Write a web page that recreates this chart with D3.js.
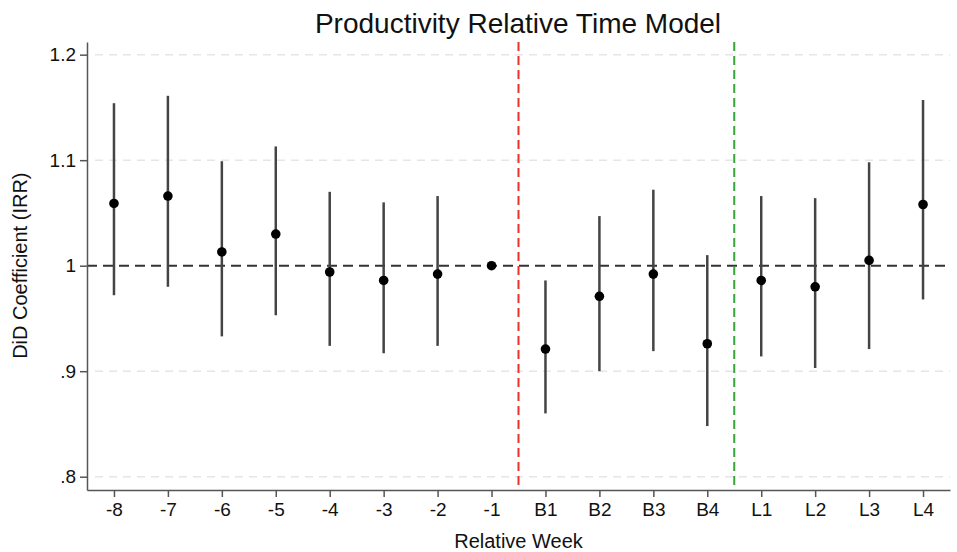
<!DOCTYPE html>
<html>
<head>
<meta charset="utf-8">
<script src="https://cdn.jsdelivr.net/npm/d3@7"></script>
<style>
  body { margin: 0; background: #fff; }
  text { font-family: "Liberation Sans", Arial, sans-serif; fill: #111; }
</style>
</head>
<body>
<div id="chart"></div>
<script>
// data
const weeks = ["-8", "-7", "-6", "-5", "-4", "-3", "-2", "-1", "B1", "B2", "B3", "B4", "L1", "L2", "L3", "L4"];
const coef  = [1.059, 1.066, 1.013, 1.030, 0.994, 0.986, 0.992, 1.000, 0.921, 0.971, 0.992, 0.926, 0.986, 0.980, 1.005, 1.058];
const upper = [1.154, 1.161, 1.099, 1.113, 1.070, 1.060, 1.066, null, 0.986, 1.047, 1.072, 1.010, 1.066, 1.064, 1.098, 1.157];
const lower = [0.972, 0.980, 0.933, 0.953, 0.924, 0.917, 0.924, null, 0.860, 0.900, 0.919, 0.848, 0.914, 0.903, 0.921, 0.968];
const yTicks = [0.8, 0.9, 1.0, 1.1, 1.2];
const yTickLabels = [".8", ".9", "1", "1.1", "1.2"];
const eventLines = [{ pos: 8.5, color: "#e8322a" }, { pos: 12.5, color: "#3aa33a" }];

const svgWidth = 957;
const svgHeight = 552;

const margin = { top: 42, right: 7, bottom: 62, left: 87 };
const width = svgWidth - margin.left - margin.right;
const height = svgHeight - margin.top - margin.bottom;

const svg = d3.select("#chart")
  .append("svg")
  .attr("width", svgWidth)
  .attr("height", svgHeight);

const chartGroup = svg.append("g")
  .attr("transform", `translate(${margin.left}, ${margin.top})`);

const xScale = d3.scaleLinear()
  .domain([0.5, weeks.length + 0.5])
  .range([0, width]);

const yScale = d3.scaleLinear()
  .domain([0.7874, 1.212])
  .range([height, 0]);

// gridlines
chartGroup.selectAll(".grid")
  .data(yTicks.filter(d => d !== 1))
  .enter()
  .append("line")
  .attr("x1", 8)
  .attr("x2", width)
  .attr("y1", d => yScale(d))
  .attr("y2", d => yScale(d))
  .attr("stroke", "#e6e6e6")
  .attr("stroke-width", 1.5)
  .attr("stroke-dasharray", "8,6");

// reference line at 1
chartGroup.append("line")
  .attr("x1", 0)
  .attr("x2", width)
  .attr("y1", yScale(1))
  .attr("y2", yScale(1))
  .attr("stroke", "#333")
  .attr("stroke-width", 2)
  .attr("stroke-dasharray", "10,6");

// event lines
chartGroup.selectAll(".event")
  .data(eventLines)
  .enter()
  .append("line")
  .attr("x1", d => xScale(d.pos))
  .attr("x2", d => xScale(d.pos))
  .attr("y1", 0)
  .attr("y2", height)
  .attr("stroke", d => d.color)
  .attr("stroke-width", 2)
  .attr("stroke-dasharray", "9,5");

// axes
const bottomAxis = d3.axisBottom(xScale)
  .tickValues(d3.range(1, weeks.length + 1))
  .tickFormat(i => weeks[i - 1])
  .tickSize(7)
  .tickSizeOuter(0)
  .tickPadding(6);

const leftAxis = d3.axisLeft(yScale)
  .tickValues(yTicks)
  .tickFormat((d, i) => yTickLabels[i])
  .tickSize(7)
  .tickSizeOuter(0)
  .tickPadding(4);

const xAxisG = chartGroup.append("g")
  .attr("transform", `translate(0, ${height})`)
  .call(bottomAxis);

const yAxisG = chartGroup.append("g")
  .call(leftAxis);

[xAxisG, yAxisG].forEach(g => {
  g.selectAll("path, line").attr("stroke", "#555").attr("stroke-width", 1.5);
  g.selectAll("text").attr("font-size", "19px").attr("fill", "#111")
    .style("font-family", "'Liberation Sans', Arial, sans-serif");
});

// error bars
const rows = weeks.map((w, i) => ({ i: i + 1, c: coef[i], hi: upper[i], lo: lower[i] }));

chartGroup.selectAll(".ci")
  .data(rows.filter(d => d.hi !== null))
  .enter()
  .append("line")
  .attr("x1", d => xScale(d.i))
  .attr("x2", d => xScale(d.i))
  .attr("y1", d => yScale(d.lo))
  .attr("y2", d => yScale(d.hi))
  .attr("stroke", "#444")
  .attr("stroke-width", 2.5);

chartGroup.selectAll("circle")
  .data(rows)
  .enter()
  .append("circle")
  .attr("cx", d => xScale(d.i))
  .attr("cy", d => yScale(d.c))
  .attr("r", 4.8)
  .attr("fill", "#000");

// labels
svg.append("text")
  .attr("x", 518)
  .attr("y", 33)
  .attr("text-anchor", "middle")
  .attr("font-size", "28px")
  .text("Productivity Relative Time Model");

svg.append("text")
  .attr("x", margin.left + width / 2)
  .attr("y", 548)
  .attr("text-anchor", "middle")
  .attr("font-size", "20px")
  .text("Relative Week");

svg.append("text")
  .attr("transform", "rotate(-90)")
  .attr("x", -(margin.top + yScale(1)))
  .attr("y", 27)
  .attr("text-anchor", "middle")
  .attr("font-size", "20px")
  .text("DiD Coefficient (IRR)");
</script>
</body>
</html>
